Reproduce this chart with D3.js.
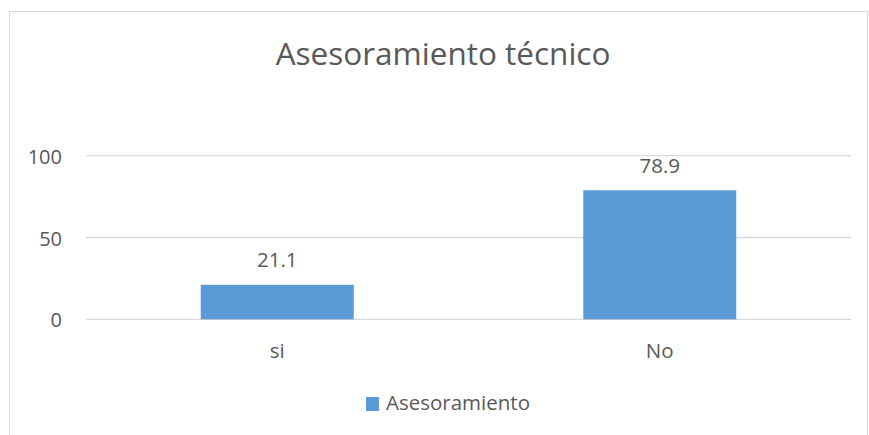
<!DOCTYPE html>
<html>
<head>
<meta charset="utf-8">
<script src="https://d3js.org/d3.v7.min.js"></script>
<style>
  body { margin: 0; background: #fff; }
  text { font-family: "Open Sans", "Noto Sans", sans-serif; fill: #595959; }
</style>
</head>
<body>
<div id="chart"></div>
<script>
const categories = ["si", "No"];
const values = [21.1, 78.9];
const yTicks = [0, 50, 100];
const seriesName = "Asesoramiento";
const title = "Asesoramiento técnico";

const w = 869, h = 435;
const plotLeft = 86, plotRight = 851, plotTop = 155.7, plotBottom = 319.3;
const barColor = "#5b9bd5";

const svg = d3.select("#chart").append("svg")
  .attr("width", w)
  .attr("height", h);

// chart border
svg.append("rect")
  .attr("x", 9.5).attr("y", 11.5)
  .attr("width", 858).attr("height", 430)
  .attr("fill", "#fff")
  .attr("stroke", "#d9d9d9");

const x = d3.scaleBand()
  .domain(categories)
  .range([plotLeft, plotRight])
  .paddingInner(0.6)
  .paddingOuter(0.3);

const y = d3.scaleLinear()
  .domain([0, 100])
  .range([plotBottom, plotTop]);

// gridlines
svg.append("g")
  .selectAll("line")
  .data(yTicks)
  .join("line")
  .attr("x1", plotLeft).attr("x2", plotRight)
  .attr("y1", d => y(d)).attr("y2", d => y(d))
  .attr("stroke", "#d9d9d9")
  .attr("stroke-width", 1.3);

// y axis labels
const yAxis = d3.axisLeft(y).tickValues(yTicks).tickSize(0).tickPadding(0);
svg.append("g")
  .attr("transform", "translate(62,0)")
  .call(yAxis)
  .call(g => g.select(".domain").remove())
  .selectAll("text")
  .attr("font-size", 20)
  .attr("dy", "0.38em")
  .attr("fill", "#595959")
  .style("font-family", "'Open Sans', sans-serif");

// bars
svg.append("g")
  .selectAll("rect")
  .data(values)
  .join("rect")
  .attr("x", (d, i) => x(categories[i]))
  .attr("y", d => y(d))
  .attr("width", x.bandwidth())
  .attr("height", d => y(0) - y(d))
  .attr("fill", barColor);

// value labels
svg.append("g")
  .selectAll("text")
  .data(values)
  .join("text")
  .attr("x", (d, i) => x(categories[i]) + x.bandwidth() / 2)
  .attr("y", d => y(d) - 17.5)
  .attr("text-anchor", "middle")
  .attr("font-size", 20.5)
  .text(d => d.toFixed(1));

// x axis labels
const xAxis = d3.axisBottom(x).tickSize(0).tickPadding(0);
svg.append("g")
  .attr("transform", "translate(0,358)")
  .call(xAxis)
  .call(g => g.select(".domain").remove())
  .selectAll("text")
  .attr("dy", 0)
  .attr("font-size", 20.5)
  .attr("fill", "#595959")
  .style("font-family", "'Open Sans', sans-serif");

// title
svg.append("text")
  .attr("x", 443)
  .attr("y", 65)
  .attr("text-anchor", "middle")
  .attr("font-size", 31.5)
  .text(title);

// legend
svg.append("rect")
  .attr("x", 366).attr("y", 397)
  .attr("width", 13).attr("height", 14)
  .attr("fill", barColor);
svg.append("text")
  .attr("x", 386)
  .attr("y", 410)
  .attr("font-size", 20.5)
  .text(seriesName);
</script>
</body>
</html>
